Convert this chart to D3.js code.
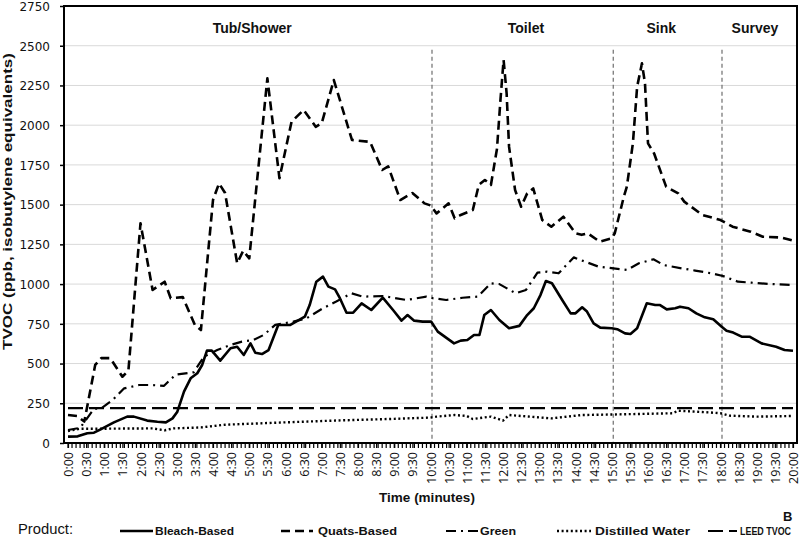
<!DOCTYPE html>
<html>
<head>
<meta charset="utf-8">
<script src="https://cdn.jsdelivr.net/npm/d3@7"></script>
<style>
  body { margin: 0; background: #fff; }
  svg { display: block; font-family: "Liberation Sans", Arial, sans-serif; }
  .tick text { font-family: "Open Sans", sans-serif; fill: #111; }
  .yaxis .tick text { font-family: "DejaVu Sans", sans-serif; }
</style>
</head>
<body>
<div id="chart"></div>
<script>
// chart data: [seconds, TVOC ppb]
var bleach = [[0,40],[16,42],[32,61],[43,65],[54,86],[76,130],[98,166],[109,166],[131,141],[148,134],[162,130],[173,155],[181,197],[192,323],[203,407],[214,439],[222,491],[230,581],[238,581],[252,518],[269,596],[280,606],[291,554],[302,627],[310,568],[321,560],[332,585],[348,743],[368,743],[392,795],[400,868],[411,1015],[422,1047],[431,984],[442,967],[450,911],[461,820],[472,820],[486,879],[502,837],[521,915],[538,837],[552,770],[562,805],[573,770],[587,764],[601,764],[612,701],[639,627],[650,644],[661,648],[672,680],[681,680],[689,805],[700,837],[714,774],[730,722],[747,737],[760,805],[771,848],[782,931],[791,1019],[801,1005],[818,900],[832,816],[840,816],[851,854],[859,827],[870,753],[881,726],[900,722],[909,716],[922,690],[931,686],[942,722],[958,879],[972,868],[980,868],[991,841],[1005,848],[1013,858],[1027,848],[1040,816],[1054,791],[1068,779],[1082,732],[1090,707],[1101,695],[1115,669],[1128,669],[1148,627],[1172,606],[1186,585],[1200,581]];

var quats = [[0,176],[15,170],[27,135],[45,491],[55,534],[70,534],[90,417],[100,456],[120,1383],[140,963],[160,1015],[170,911],[190,918],[210,743],[220,711],[240,1529],[250,1634],[260,1573],[280,1131],[290,1210],[300,1162],[330,2295],[350,1666],[370,2022],[390,2096],[410,1990],[420,2013],[440,2284],[470,1907],[500,1895],[520,1718],[530,1741],[550,1529],[570,1573],[590,1508],[600,1495],[610,1445],[630,1508],[640,1414],[650,1435],[670,1466],[680,1624],[690,1655],[700,1624],[710,1850],[716,2170],[721,2410],[726,2200],[730,1865],[740,1592],[750,1487],[760,1571],[770,1602],[785,1403],[800,1361],[820,1424],[840,1320],[850,1310],[860,1320],[880,1267],[900,1288],[905,1320],[920,1550],[925,1613],[935,1886],[942,2242],[950,2389],[955,2264],[960,1886],[970,1823],[990,1613],[1010,1571],[1020,1519],[1050,1435],[1070,1414],[1080,1403],[1100,1361],[1130,1330],[1150,1298],[1180,1293],[1200,1274]];

var green = [[0,82],[20,95],[43,215],[55,218],[74,271],[93,344],[118,365],[137,365],[159,360],[178,430],[208,445],[225,543],[247,585],[269,617],[288,638],[307,648],[324,680],[343,743],[373,764],[395,785],[422,848],[444,890],[469,942],[488,921],[521,925],[560,900],[593,921],[604,911],[626,900],[653,914],[678,921],[700,1005],[714,1000],[741,942],[758,963],[777,1072],[793,1078],[812,1068],[837,1168],[856,1141],[878,1110],[903,1099],[925,1089],[945,1131],[969,1156],[986,1120],[1016,1099],[1038,1085],[1065,1068],[1084,1051],[1109,1015],[1131,1009],[1159,1001],[1200,994]];

var distilled = [[0,75],[20,90],[60,90],[140,92],[160,80],[175,92],[220,98],[260,115],[360,130],[440,141],[540,152],[600,160],[610,166],[640,176],[660,170],[670,151],[700,166],[720,141],[730,176],[800,155],[850,176],[910,180],[1000,187],[1010,203],[1060,193],[1080,187],[1095,172],[1140,166],[1200,170]];

var leed = [[0,220],[1200,220]];

var yTicks = [0, 250, 500, 750, 1000, 1250, 1500, 1750, 2000, 2250, 2500, 2750];
var xTicks = d3.range(0, 1201, 30);
var phaseStarts = [600, 900, 1080];
var phaseNames = ["Tub/Shower", "Toilet", "Sink", "Survey"];
var phaseLabelAt = [305, 758, 982, 1137];
var seriesNames = ["Bleach-Based", "Quats-Based", "Green", "Distilled Water", "LEED TVOC"];

// setup SVG
var svgWidth = 800;
var svgHeight = 541;
var plot = { left: 64, right: 797, top: 6, bottom: 443 };

var svg = d3.select("#chart")
  .append("svg")
  .attr("width", svgWidth)
  .attr("height", svgHeight);

svg.append("rect").attr("width", svgWidth).attr("height", svgHeight).attr("fill", "#fff");

var xScale = d3.scaleLinear().domain([0, 1200]).range([68, 793]);
var yScale = d3.scaleLinear().domain([0, 2750]).range([plot.bottom, plot.top]);

// gridlines
svg.append("g")
  .selectAll("line")
  .data(yTicks.slice(1, -1))
  .enter()
  .append("line")
  .attr("x1", plot.left).attr("x2", plot.right)
  .attr("y1", d => yScale(d)).attr("y2", d => yScale(d))
  .attr("stroke", "#d9d9d9")
  .attr("stroke-width", 1);

// phase dividers
svg.append("g")
  .selectAll("line")
  .data(phaseStarts)
  .enter()
  .append("line")
  .attr("x1", d => xScale(d) + 1.5).attr("x2", d => xScale(d) + 1.5)
  .attr("y1", yScale(2475)).attr("y2", yScale(0))
  .attr("stroke", "#6e6e6e")
  .attr("stroke-width", 1.2)
  .attr("stroke-dasharray", "4,3");

// phase labels
svg.append("g")
  .selectAll("text")
  .data(phaseNames)
  .enter()
  .append("text")
  .attr("x", (d, i) => xScale(phaseLabelAt[i]))
  .attr("y", 33)
  .attr("text-anchor", "middle")
  .attr("font-weight", "bold")
  .attr("font-size", 14)
  .attr("fill", "#111")
  .text(d => d);

// lines
var styles = [
  { data: bleach, dash: null, width: 2.6 },
  { data: quats, dash: "9,5", width: 2.6 },
  { data: green, dash: "10,5,2,5", width: 2.2 },
  { data: distilled, dash: "2,2.6", width: 2.4 },
  { data: leed, dash: "15,6", width: 2.2 }
];

var line = d3.line()
  .x(d => xScale(d[0]))
  .y(d => yScale(d[1]));

[4, 3, 2, 1, 0].forEach(function(i) {
  svg.append("path")
    .datum(styles[i].data)
    .attr("d", line)
    .attr("fill", "none")
    .attr("stroke", "#000")
    .attr("stroke-width", styles[i].width)
    .attr("stroke-dasharray", styles[i].dash)
    .attr("stroke-linejoin", "round");
});

// axes
var leftAxis = d3.axisLeft(yScale)
  .tickValues(yTicks)
  .tickSize(4)
  .tickPadding(10)
  .tickFormat(d => String(d));
var yAxisG = svg.append("g")
  .attr("class", "yaxis")
  .attr("transform", `translate(${plot.left}, 0)`)
  .call(leftAxis);
yAxisG.select(".domain").remove();
yAxisG.selectAll("text").attr("font-size", 12).attr("dy", "0.36em");
yAxisG.selectAll("line").attr("stroke-width", 1.5);

// minor ticks on the time axis
svg.append("g")
  .selectAll("line")
  .data(d3.range(0, 1201, 20 / 3))
  .enter()
  .append("line")
  .attr("x1", d => xScale(d)).attr("x2", d => xScale(d))
  .attr("y1", plot.bottom).attr("y2", plot.bottom + 5)
  .attr("stroke", "#000")
  .attr("stroke-width", 1.2);

var bottomAxis = d3.axisBottom(xScale)
  .tickValues(xTicks)
  .tickSize(5)
  .tickFormat(d => Math.floor(d / 60) + ":" + (d % 60 === 0 ? "00" : "30"));
var xAxisG = svg.append("g")
  .attr("transform", `translate(0, ${plot.bottom})`)
  .call(bottomAxis);
xAxisG.select(".domain").remove();
xAxisG.selectAll("line").attr("stroke-width", 1.2);
xAxisG.selectAll("text")
  .attr("font-size", 12.5)
  .attr("transform", "rotate(-90)")
  .attr("text-anchor", "end")
  .attr("x", -9)
  .attr("y", 0)
  .attr("dy", "0.36em");

// frame
svg.append("rect")
  .attr("x", plot.left)
  .attr("y", plot.top)
  .attr("width", plot.right - plot.left)
  .attr("height", plot.bottom - plot.top)
  .attr("fill", "none")
  .attr("stroke", "#000")
  .attr("stroke-width", 2);

// axis titles
svg.append("text")
  .attr("transform", `translate(12, ${(53 + 350) / 2}) rotate(-90)`)
  .attr("text-anchor", "middle")
  .attr("font-weight", "bold")
  .attr("font-size", 12.5)
  .attr("textLength", 297)
  .attr("lengthAdjust", "spacingAndGlyphs")
  .attr("fill", "#111")
  .text("TVOC (ppb, isobutylene equivalents)");

svg.append("text")
  .attr("x", 427)
  .attr("y", 502)
  .attr("text-anchor", "middle")
  .attr("font-weight", "bold")
  .attr("font-size", 13.5)
  .attr("fill", "#111")
  .text("Time (minutes)");

// legend
var legend = svg.append("g");
legend.append("text")
  .attr("x", 18).attr("y", 534)
  .attr("font-size", 14)
  .attr("textLength", 55)
  .attr("lengthAdjust", "spacingAndGlyphs")
  .attr("fill", "#111")
  .text("Product:");

var legendPos = [
  { x0: 120, x1: 153, tx: 155, tw: 79 },
  { x0: 281, x1: 313, tx: 318, tw: 79 },
  { x0: 446, x1: 478, tx: 480, tw: 36 },
  { x0: 557, x1: 591, tx: 595, tw: 95 },
  { x0: 708, x1: 737, tx: 740, tw: 51 }
];

seriesNames.forEach(function(name, i) {
  var p = legendPos[i];
  legend.append("line")
    .attr("x1", p.x0).attr("x2", p.x1)
    .attr("y1", 531).attr("y2", 531)
    .attr("stroke", "#000")
    .attr("stroke-width", styles[i].width)
    .attr("stroke-dasharray", styles[i].dash);
  legend.append("text")
    .attr("x", p.tx).attr("y", 535)
    .attr("font-size", 11.5)
    .attr("font-weight", "bold")
    .attr("textLength", p.tw)
    .attr("lengthAdjust", "spacingAndGlyphs")
    .attr("fill", "#111")
    .text(name);
});

svg.append("text")
  .attr("x", 783).attr("y", 521)
  .attr("font-size", 13)
  .attr("font-weight", "bold")
  .attr("fill", "#111")
  .text("B");
</script>
</body>
</html>
